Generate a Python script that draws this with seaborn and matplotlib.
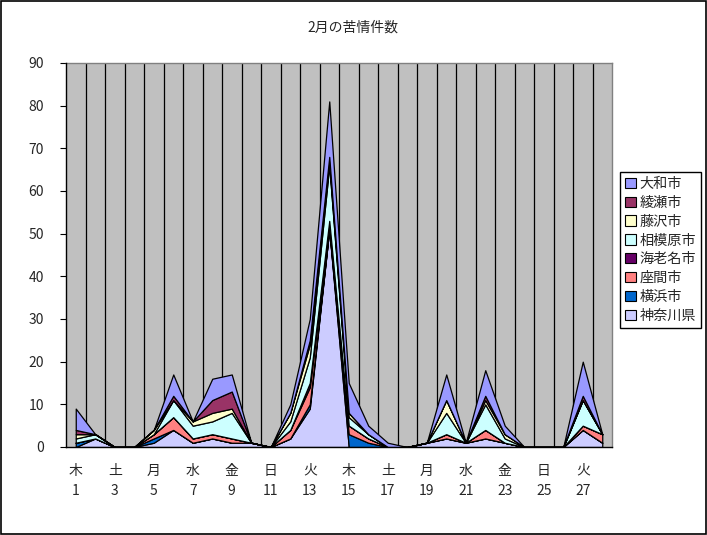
import numpy as np
import pandas as pd
import matplotlib
matplotlib.use("Agg")
import matplotlib.pyplot as plt
from matplotlib.patches import Rectangle
import seaborn as sns

days = list(range(1, 29))
weekdays = ["木", "金", "土", "日", "月", "火", "水"] * 4
series_names = ["神奈川県", "横浜市", "座間市", "海老名市", "相模原市", "藤沢市", "綾瀬市", "大和市"]
kanagawa = [0, 2, 0, 0, 1, 4, 1, 2, 1, 1, 0, 2, 9, 51, 0, 0, 0, 0, 1, 2, 1, 2, 1, 0, 0, 0, 4, 1]
yokohama = [1, 0, 0, 0, 1, 0, 0, 0, 0, 0, 0, 0, 1, 0, 3, 1, 0, 0, 0, 0, 0, 0, 0, 0, 0, 0, 0, 0]
zama = [0, 0, 0, 0, 1, 3, 1, 1, 1, 0, 0, 2, 4, 1, 2, 1, 0, 0, 0, 1, 0, 2, 0, 0, 0, 0, 1, 2]
ebina = [0, 0, 0, 0, 0, 0, 0, 0, 0, 0, 0, 0, 1, 1, 0, 0, 0, 0, 0, 0, 0, 0, 0, 0, 0, 0, 0, 0]
sagamihara = [1, 1, 0, 0, 0, 4, 3, 3, 6, 0, 0, 2, 6, 13, 2, 1, 0, 0, 0, 5, 0, 6, 1, 0, 0, 0, 6, 0]
fujisawa = [1, 0, 0, 0, 1, 0, 1, 2, 1, 0, 0, 2, 3, 1, 1, 0, 0, 0, 0, 3, 0, 1, 1, 0, 0, 0, 0, 0]
ayase = [1, 0, 0, 0, 0, 1, 0, 3, 4, 0, 0, 0, 1, 1, 0, 0, 0, 0, 0, 0, 0, 1, 0, 0, 0, 0, 1, 0]
yamato = [5, 0, 0, 0, 0, 5, 0, 5, 4, 0, 0, 2, 5, 13, 7, 2, 1, 0, 0, 6, 0, 6, 2, 0, 0, 0, 8, 0]
colors = ["#CCCCFF", "#0066CC", "#FF8080", "#660066", "#CCFFFF", "#FFFFCC", "#993366", "#9999FF"]

df = pd.DataFrame({"day": days, "神奈川県": kanagawa, "横浜市": yokohama, "座間市": zama,
                   "海老名市": ebina, "相模原市": sagamihara, "藤沢市": fujisawa,
                   "綾瀬市": ayase, "大和市": yamato})

sns.set_theme(style="white")
plt.rcParams["font.family"] = ["Noto Sans CJK JP", "DejaVu Sans"]

fig = plt.figure(figsize=(7.07, 5.35), dpi=100)
fig.patch.set_facecolor("white")
ax = fig.add_axes([66 / 707, 88 / 535, 546 / 707, 384 / 535])
ax.set_facecolor("#C0C0C0")

pal = sns.color_palette(colors)
ax.stackplot(df["day"], [df[s] for s in series_names], labels=series_names,
             colors=pal, edgecolor="black", linewidth=0.9, zorder=3)

ax.set_xlim(0.5, 28.5)
ax.set_ylim(0, 90)
ax.set_yticks(np.arange(0, 91, 10))
ax.set_yticklabels([str(v) for v in range(0, 91, 10)], fontsize=10)
major = days[::2]
ax.set_xticks(major)
ax.set_xticklabels([f"{weekdays[d-1]}\n{d}" for d in major], fontsize=10, linespacing=1.6)
ax.set_xticks(np.arange(1.5, 28.5, 1), minor=True)
ax.tick_params(axis="x", which="major", length=0, pad=12)
ax.tick_params(axis="x", which="minor", direction="in", length=4, color="black", width=0.8)
ax.tick_params(axis="y", which="major", direction="out", length=4, color="black", width=0.8, pad=12, left=True)
for xv in np.arange(1.5, 28.5, 1):
    ax.axvline(xv, color="black", linewidth=0.9, zorder=1)
ax.grid(False)
for s in ["left", "bottom"]:
    ax.spines[s].set_color("black")
    ax.spines[s].set_linewidth(1)
    ax.spines[s].set_zorder(5)
for s in ["top", "right"]:
    ax.spines[s].set_color("#808080")
    ax.spines[s].set_linewidth(1)

fig.text(353 / 707, 1 - 28 / 535, "2月の苦情件数", ha="center", va="center", fontsize=10)

handles, labels = ax.get_legend_handles_labels()
leg = fig.legend(handles[::-1], labels[::-1], loc="upper left",
                 bbox_to_anchor=(620 / 707, 1 - 172 / 535), fontsize=10.2,
                 frameon=True, fancybox=False, edgecolor="black", framealpha=1,
                 handlelength=0.75, handleheight=0.75, handletextpad=0.3,
                 labelspacing=0.34, borderpad=0.35, borderaxespad=0)
leg.get_frame().set_linewidth(1)
for h in leg.legend_handles:
    h.set_edgecolor("black")
    h.set_linewidth(0.8)

fig.add_artist(Rectangle((0.001, 0.001), 0.997, 0.997, transform=fig.transFigure,
                         fill=False, edgecolor="black", linewidth=1.2))

fig.savefig("out.png", dpi=100, facecolor="white")
